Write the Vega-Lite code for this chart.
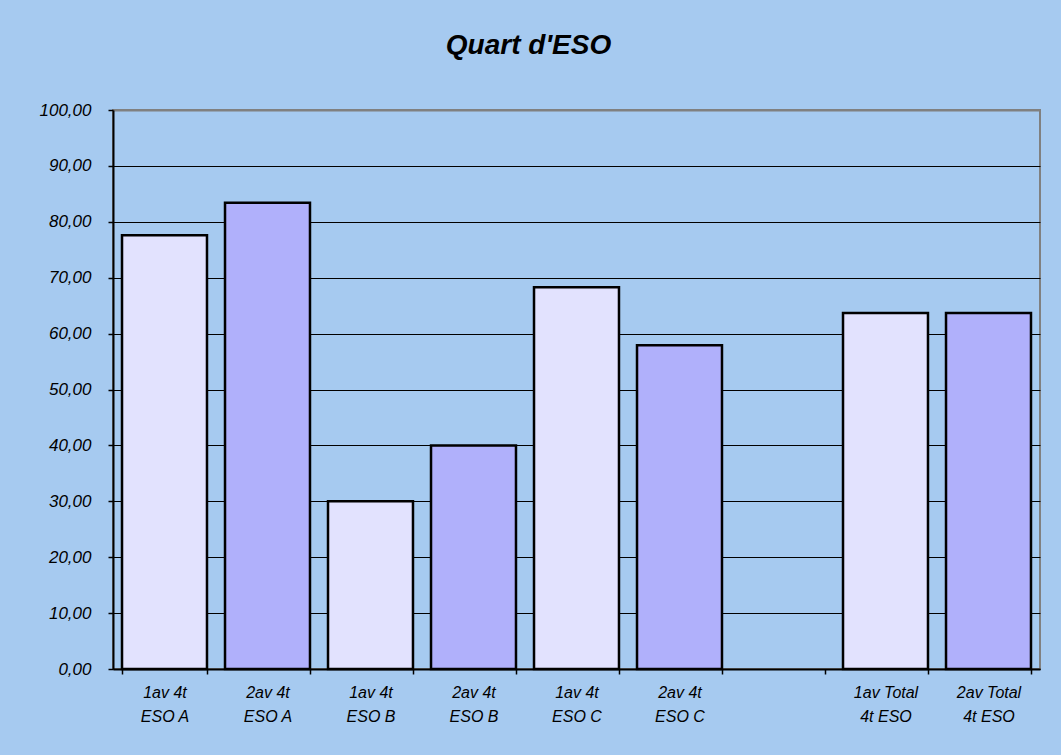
{
  "$schema": "https://vega.github.io/schema/vega-lite/v6.json",
  "width": 927,
  "height": 559,
  "autosize": {"type": "none"},
  "padding": {"left": 113, "top": 110, "right": 21, "bottom": 86},
  "background": "#A6CAF0",
  "title": {
    "text": "Quart d'ESO",
    "font": "Liberation Sans",
    "fontSize": 28,
    "fontWeight": "bold",
    "fontStyle": "italic",
    "color": "#000000",
    "anchor": "middle",
    "offset": 41,
    "dx": -48
  },
  "data": {
    "values": [
      {"cat": "1av 4t|ESO A", "serie": "1av", "valor": 77.6},
      {"cat": "2av 4t|ESO A", "serie": "2av", "valor": 83.4},
      {"cat": "1av 4t|ESO B", "serie": "1av", "valor": 30.0},
      {"cat": "2av 4t|ESO B", "serie": "2av", "valor": 40.0},
      {"cat": "1av 4t|ESO C", "serie": "1av", "valor": 68.3},
      {"cat": "2av 4t|ESO C", "serie": "2av", "valor": 57.9},
      {"cat": "1av Total|4t ESO", "serie": "1av", "valor": 63.7},
      {"cat": "2av Total|4t ESO", "serie": "2av", "valor": 63.7}
    ]
  },
  "mark": {"type": "bar", "stroke": "#000000", "strokeWidth": 2.5},
  "encoding": {
    "x": {
      "field": "cat",
      "type": "nominal",
      "sort": null,
      "scale": {
        "domain": ["1av 4t|ESO A", "2av 4t|ESO A", "1av 4t|ESO B", "2av 4t|ESO B", "1av 4t|ESO C", "2av 4t|ESO C", "gap", "1av Total|4t ESO", "2av Total|4t ESO"],
        "paddingInner": 0.175,
        "paddingOuter": 0.0875
      },
      "axis": {
        "title": null,
        "labelAngle": 0,
        "labelExpr": "datum.label == 'gap' ? '' : split(datum.label, '|')",
        "labelFont": "Liberation Sans",
        "labelFontStyle": "italic",
        "labelFontSize": 16,
        "labelColor": "#000000",
        "labelLineHeight": 24,
        "labelPadding": 10,
        "labelBaseline": "top",
        "tickBand": "extent",
        "ticks": true,
        "tickSize": 5,
        "tickColor": "#000000",
        "tickWidth": 1.5,
        "domainColor": "#000000",
        "domainWidth": 2,
        "grid": false
      }
    },
    "y": {
      "field": "valor",
      "type": "quantitative",
      "scale": {"domain": [0, 100], "nice": false},
      "axis": {
        "title": null,
        "values": [0, 10, 20, 30, 40, 50, 60, 70, 80, 90, 100],
        "labelExpr": "replace(format(datum.value, '.2f'), '.', ',')",
        "labelFont": "Liberation Sans",
        "labelFontStyle": "italic",
        "labelFontSize": 17,
        "labelColor": "#000000",
        "labelPadding": 17,
        "tickSize": 5,
        "tickColor": "#000000",
        "tickWidth": 1.5,
        "domainColor": "#000000",
        "domainWidth": 2,
        "grid": true,
        "gridColor": {"condition": {"test": "datum.value == 100", "value": "#808080"}, "value": "#000000"},
        "gridWidth": {"condition": {"test": "datum.value == 100", "value": 2}, "value": 1},
        "gridOpacity": 1
      }
    },
    "color": {
      "field": "serie",
      "type": "nominal",
      "scale": {"domain": ["1av", "2av"], "range": ["#E2E2FE", "#B0B0FB"]},
      "legend": null
    }
  },
  "config": {
    "view": {"stroke": "#808080", "strokeWidth": 2}
  }
}
